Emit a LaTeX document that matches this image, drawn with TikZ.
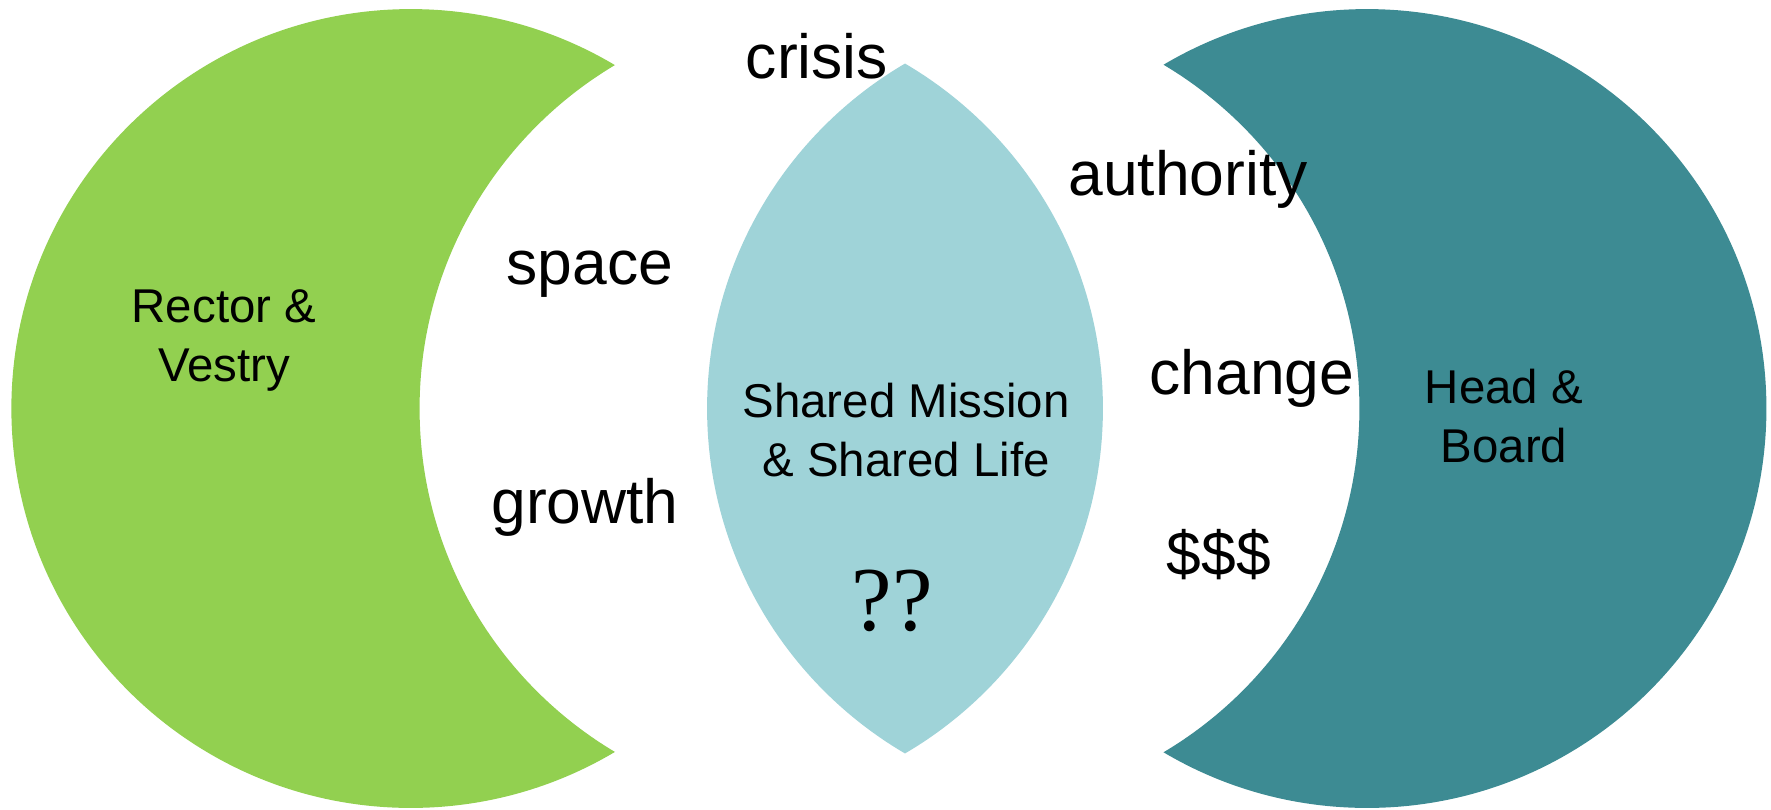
\documentclass[tikz,border=0pt]{standalone}
\usepackage{fontspec}
\setmainfont{Liberation Sans}
\newfontfamily\qmark{Liberation Serif}
\definecolor{rectorgreen}{RGB}{146,208,80}
\definecolor{missionblue}{RGB}{159,211,216}
\definecolor{boardteal}{RGB}{61,139,147}

\begin{document}
\begin{tikzpicture}[
    x=0.02cm, y=-0.02cm,
    every node/.style={inner sep=0pt, anchor=base},
    party/.style={font=\fontsize{27}{33.5}\selectfont, align=center},
    topic/.style={font=\fontsize{35.5}{40}\selectfont},
]
\useasboundingbox (0,0) rectangle (1771,809);
\def\rad{7.99cm}
% the two crescents and the shared lens
\begin{scope}
  \clip (410.8,408.5) circle[radius=\rad];
  \fill[rectorgreen, even odd rule] (0,0) rectangle (1771,809) (819,408.5) circle[radius=\rad];
\end{scope}
\begin{scope}
  \clip (1367,408.5) circle[radius=\rad];
  \fill[boardteal, even odd rule] (0,0) rectangle (1771,809) (960,408.5) circle[radius=\rad];
\end{scope}
\begin{scope}
  \clip (703.5,408.5) circle[radius=\rad];
  \fill[missionblue] (1106.5,408.5) circle[radius=\rad];
\end{scope}
% labels (base = last line)
\node[party] (rector) at (224,381) {Rector \&\\Vestry};
\node[party] (shared) at (906,476) {Shared Mission\\\& Shared Life};
\node[party] (head) at (1504,462) {Head \&\\Board};
\node[font=\qmark\fontsize{52}{60}\selectfont] (unknown) at (892,630) {??};
\node[topic] (crisis) at (817,78) {crisis};
\node[topic] (space) at (590,284) {space};
\node[topic] (growth) at (585,523) {growth};
\node[topic] (authority) at (1188,195) {authority};
\node[topic] (change) at (1252,394) {change};
\node[topic] (money) at (1219,575) {\$\$\$};
\end{tikzpicture}
\end{document}
